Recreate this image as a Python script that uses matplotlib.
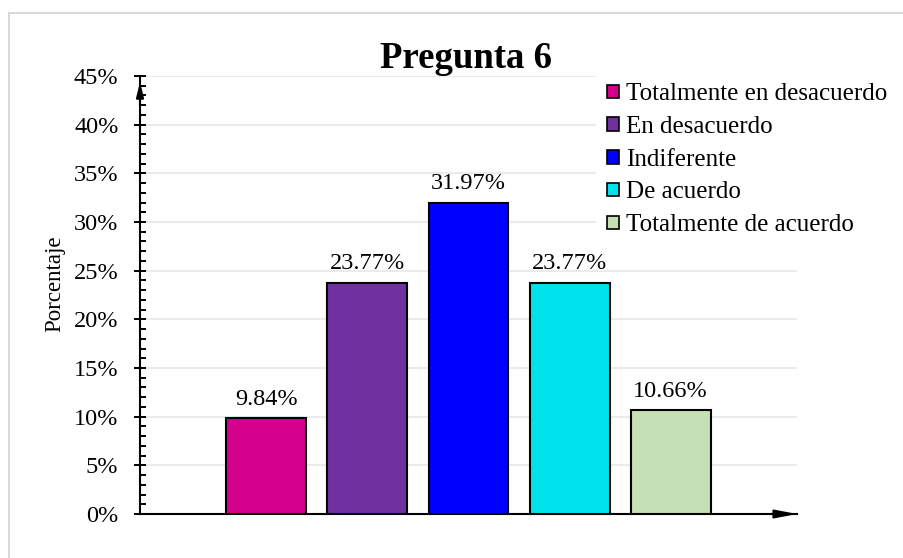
import numpy as np
from matplotlib import pyplot as plt
from matplotlib.patches import Patch
from matplotlib.lines import Line2D
from matplotlib.ticker import MultipleLocator, PercentFormatter

# datos de la pregunta 6
categorias = ['Totalmente en desacuerdo', 'En desacuerdo', 'Indiferente',
              'De acuerdo', 'Totalmente de acuerdo']
porcentajes = [9.84, 23.77, 31.97, 23.77, 10.66]
colores = ['#D6008F', '#7030A0', '#0000FF', '#00E3EC', '#C5E0B4']

plt.rcParams['font.family'] = ['Liberation Serif', 'DejaVu Serif']

fig = plt.figure(figsize=(9.04, 5.58), dpi=100)
ax = fig.add_axes([140/904, 44/558, 657/904, 438/558])

x = np.arange(len(categorias))
barras = ax.bar(x, porcentajes, width=0.79, color=colores,
                edgecolor='black', linewidth=1.5, zorder=3)

for b, v in zip(barras, porcentajes):
    ax.annotate(f'{v:.2f}%', (b.get_x() + b.get_width()/2, v),
                xytext=(0, 6), textcoords='offset points',
                ha='center', va='bottom', fontsize=17.5)

ax.set_xlim(-1.25, 5.25)
ax.set_ylim(0, 45)
ax.yaxis.set_major_locator(MultipleLocator(5))
ax.yaxis.set_minor_locator(MultipleLocator(1))
ax.yaxis.set_major_formatter(PercentFormatter(decimals=0))
ax.set_xticks([])
ax.tick_params(axis='y', which='major', direction='inout', length=9,
               width=1.4, labelsize=17.5, pad=11)
ax.tick_params(axis='y', which='minor', direction='in', length=4, width=1.4)
ax.grid(axis='y', which='major', color='#EBEBEB', linewidth=1.5, zorder=0)

for s in ['top', 'right']:
    ax.spines[s].set_visible(False)
ax.spines['left'].set_linewidth(1.5)
ax.spines['bottom'].set_linewidth(1.5)

# flechas de los ejes
ax.annotate('', xy=(-1.25, 44.4), xytext=(-1.25, 42.0),
            arrowprops=dict(arrowstyle='-|>,head_length=0.9,head_width=0.22',
                            color='black', lw=1.5, shrinkA=0, shrinkB=0),
            annotation_clip=False)
ax.annotate('', xy=(5.25, 0), xytext=(4.98, 0),
            arrowprops=dict(arrowstyle='-|>,head_length=1.3,head_width=0.25',
                            color='black', lw=1.5, shrinkA=0, shrinkB=0),
            annotation_clip=False)

manejadores = [Patch(facecolor=c, edgecolor='black', linewidth=1.2) for c in colores]
leg = ax.legend(manejadores, categorias, loc='upper left',
                bbox_to_anchor=(596/904, 486/558), bbox_transform=fig.transFigure,
                fontsize=18, frameon=True, framealpha=1, edgecolor='white',
                fancybox=False, handlelength=0.46, handleheight=0.46,
                handletextpad=0.3, labelspacing=0.43, borderpad=0.45,
                borderaxespad=0)
leg.set_zorder(5)

fig.text(466/904, (558-58)/558, 'Pregunta 6', ha='center', va='center',
         fontsize=26.5, fontweight='bold')
fig.text(55/904, (558-284)/558, 'Porcentaje', ha='center', va='center',
         rotation=90, fontsize=16.5)

# borde del grafico
fig.add_artist(Line2D([9/904, 1], [1 - 13/558, 1 - 13/558],
                      color='#D9D9D9', lw=1.5, transform=fig.transFigure))
fig.add_artist(Line2D([9/904, 9/904], [0, 1 - 13/558],
                      color='#D9D9D9', lw=1.5, transform=fig.transFigure))

plt.savefig('out.png', dpi=100, facecolor='white')
